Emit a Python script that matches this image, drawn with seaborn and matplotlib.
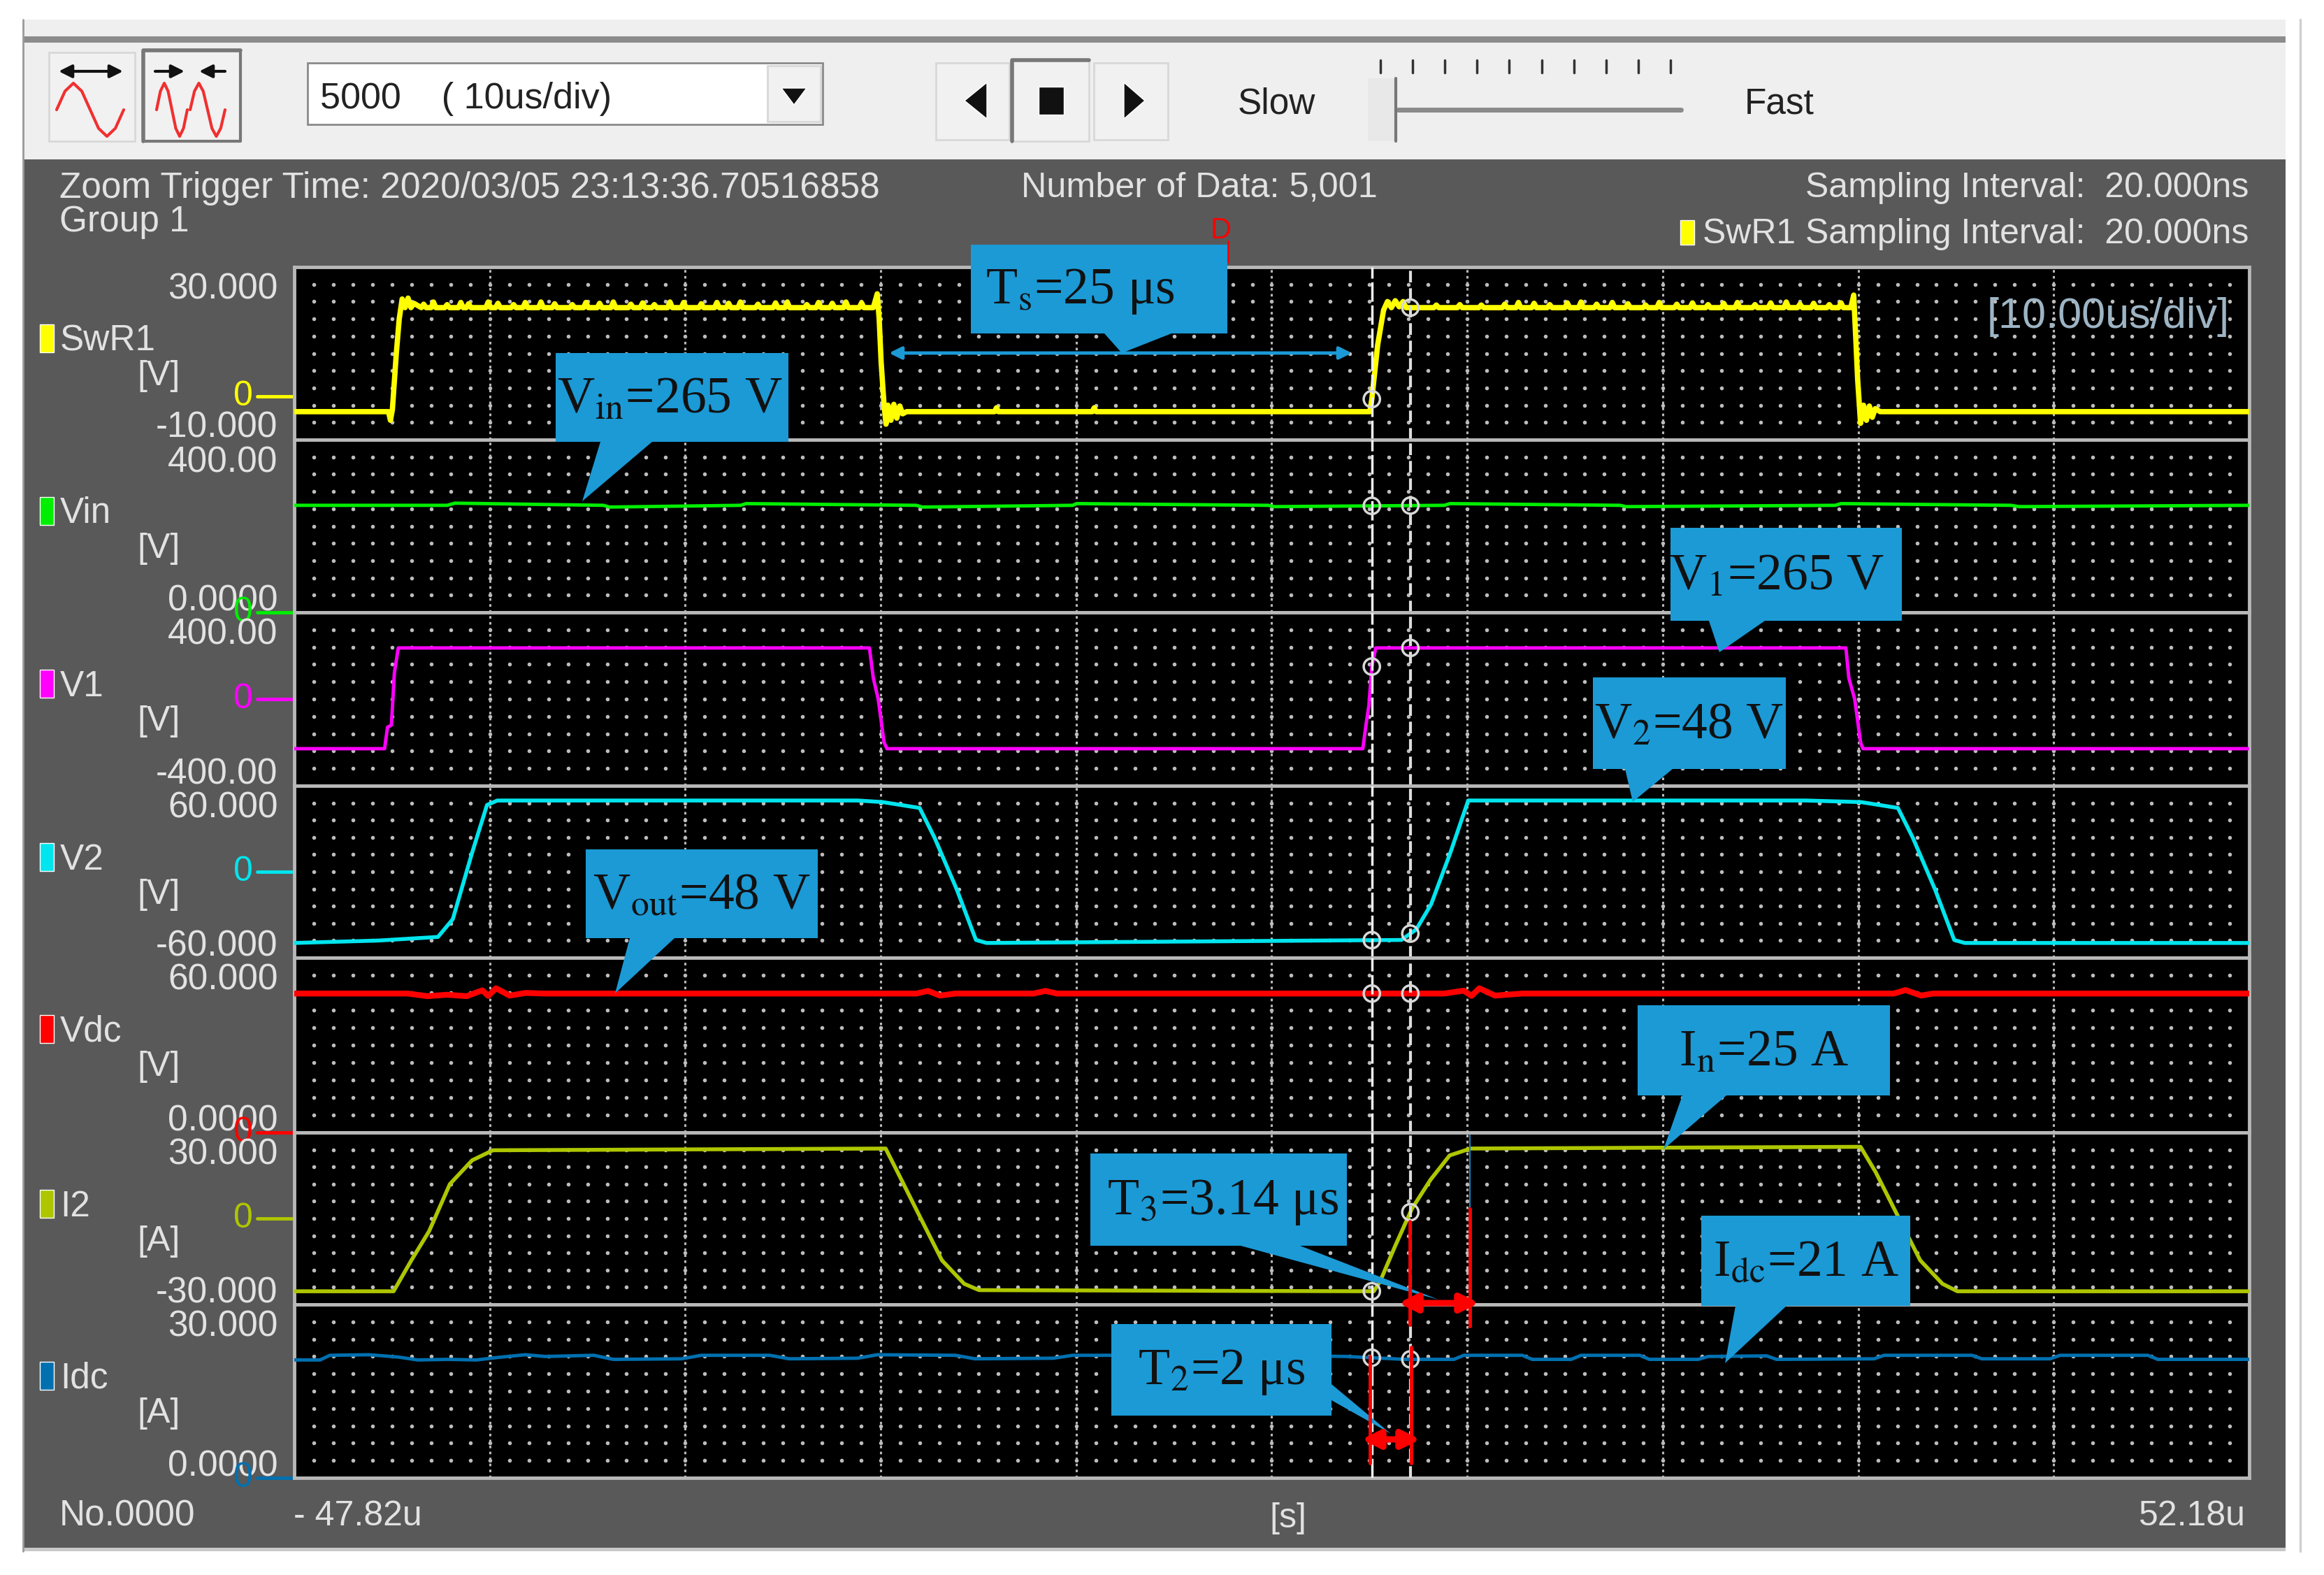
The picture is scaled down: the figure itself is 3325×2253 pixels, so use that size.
import numpy as np
import seaborn as sns
import matplotlib.pyplot as plt
from matplotlib.patches import Polygon, Rectangle
from matplotlib.transforms import ScaledTranslation

W, H = 3325, 2253

# time base of the record, us
T_START = -47.82
T_END = 52.18
CURSORS = [7.30, 9.27]

# SwR1 outline, the small ripple on the high level is listed separately below
swr1_t = [-47.82, -43.0, -42.9, -42.8, -42.72, -42.6, -42.45, -42.3, -42.15, -42.0, -41.85, -41.7,
          -18.2, -18.0, -17.9, -17.8, -17.65, -17.55, -17.45, -17.3, -17.15, -17.0, -16.85, -16.7, -16.5,
          -12.0, -11.9, -11.8, -7.0, -6.9, -6.8, 7.0, 7.2, 7.3, 7.6, 7.9, 8.1, 8.3, 8.5, 8.7, 8.9, 9.05,
          31.8, 31.95, 32.05, 32.15, 32.3, 32.45, 32.6, 32.75, 32.9, 33.05, 33.3, 52.18]
swr1_v = [-3.5, -3.5, -5.5, -3.0, 2.3, 10.0, 18.0, 22.6, 20.6, 22.8, 20.6, 21.6,
          20.6, 23.8, 18.0, 8.0, -2.0, -6.4, -2.0, -5.5, -1.8, -5.0, -2.2, -4.0, -3.5,
          -3.5, -2.6, -3.5, -3.5, -2.6, -3.5, -3.5, -3.5, -0.6, 12.0, 20.0, 22.0, 20.6, 22.2, 20.8, 22.0, 20.6,
          20.6, 23.5, 14.0, 4.0, -6.2, -2.0, -5.5, -2.2, -4.8, -2.8, -3.5, -3.5]
# ripple peaks on the high level
swr1_peak_t = [-41.2, -40.7, -40.0, -39.3, -38.9, -37.9, -37.4, -36.6, -36.0, -35.2, -34.5, -33.6, -32.9, -32.2, -31.5,
               -30.6, -30.0, -29.4, -28.6, -27.9, -27.0, -26.2, -25.6, -25.0, -24.1, -23.2, -22.6, -21.6, -21.0, -20.3, -19.6, -18.8,
               10.6, 11.8, 12.9, 14.1, 14.8, 15.6, 16.4, 17.3, 18.0, 18.8, 19.6, 20.4, 21.3, 22.0, 22.9, 23.7, 24.5, 25.3, 26.0,
               26.9, 27.7, 28.5, 29.2, 29.9, 30.7, 31.3]
swr1_peak_v = [21.4, 21.9, 21.3, 21.8, 21.5, 21.9, 21.6, 21.3, 21.8, 21.9, 21.5, 21.3, 21.8, 21.6, 21.9,
               21.4, 21.7, 21.3, 21.9, 21.8, 21.5, 21.8, 21.6, 21.9, 21.4, 21.7, 21.9, 21.3, 21.8, 21.6, 21.9, 21.7,
               21.2, 21.3, 21.2, 21.4, 21.8, 21.6, 21.3, 21.7, 21.9, 21.4, 21.8, 21.5, 21.2, 21.8, 21.4, 21.7, 21.3, 21.6, 21.8,
               21.3, 21.7, 21.9, 21.4, 21.6, 21.3, 21.7]
SWR1_HIGH = 20.6

vin_t = [-47.82, -40.0, -39.6, -32.0, -31.7, -25.0, -24.7, -16.0, -15.7, -8.0, -7.8, 2.0, 2.3, 11.0, 11.3, 20.0, 20.3, 31.0, 31.3,
         40.0, 40.4, 52.18]
vin_v = [248, 248, 253, 248, 244, 248, 252, 248, 244, 248, 252, 248, 245, 248, 252, 248, 245, 248, 252, 248, 245, 248]

v1_t = [-47.82, -43.2, -43.05, -42.85, -42.7, -42.5, -18.4, -18.2, -17.95, -17.65, -17.5, 6.84, 7.0, 7.15, 7.3, 7.5, 31.55, 31.7,
        32.0, 32.3, 32.42, 52.18]
v1_v = [-229, -229, -130, -120, 120, 236, 236, 97, 0, -200, -229, -229, -120, -30, 150, 236, 236, 97, 0, -200, -229, -229]

v2_t = [-47.82, -43.5, -40.47, -39.71, -38.72, -37.96, -37.43, -19.0, -17.72, -15.83, -15.07, -13.93, -12.95, -12.41,
        8.81, 9.57, 10.33, 11.32, 12.23, 12.98, 29.5, 32.32, 34.21, 34.97, 36.11, 37.09, 37.63, 52.18]
v2_v = [-49.7, -48.0, -45.5, -33.1, 13.4, 46.6, 49.7, 49.7, 48.6, 44.5, 23.8, -12.4, -47.6, -49.7,
        -47.6, -40.3, -22.8, 13.4, 49.7, 49.7, 49.7, 48.6, 44.5, 23.8, -12.4, -47.6, -49.7, -49.7]

vdc_t = [-47.82, -42.0, -41.0, -40.0, -39.0, -38.2, -37.9, -37.5, -36.8, -36.0, -35.0, -16.0, -15.4, -14.8, -14.0, -10.0, -9.4, -8.8,
         8.0, 9.5, 11.0, 12.0, 12.4, 12.8, 13.6, 15.0, 34.0, 34.6, 35.4, 36.0, 52.18]
vdc_v = [47.7, 47.7, 46.8, 47.3, 46.8, 48.8, 46.9, 49.5, 47.0, 47.9, 47.7, 47.7, 48.6, 47.0, 47.7, 47.7, 48.6, 47.7,
         47.7, 47.7, 47.7, 48.7, 46.9, 49.5, 47.0, 47.7, 47.7, 48.9, 47.0, 47.7, 47.7]

i2_t = [-47.82, -42.74, -41.83, -40.92, -39.86, -38.72, -37.66, -17.57, -16.96, -15.83, -14.69, -13.55, -12.79,
        7.4, 7.72, 8.5, 9.35, 10.3, 11.28, 12.35, 32.3, 33.07, 34.21, 35.35, 36.49, 37.25, 52.18]
i2_v = [-25.4, -25.4, -14.6, -4.4, 12.0, 20.3, 23.8, 24.4, 16.2, 0.8, -14.6, -22.8, -25.0,
        -25.4, -22.0, -9.5, 3.4, 13.5, 22.0, 24.4, 25.0, 16.2, 0.8, -14.6, -22.8, -25.4, -25.4]

idc_t = [-47.82, -46.5, -46.0, -44.0, -42.5, -41.5, -40.0, -38.5, -37.5, -36.0, -35.0, -32.5, -31.5, -28.0, -27.0, -23.5, -22.5,
         -19.0, -18.0, -14.0, -13.0, -9.0, -8.0, -4.0, -3.0, 1.0, 2.0, 6.0, 9.0, 11.5, 12.0, 15.0, 15.5, 17.5, 18.0, 21.0, 21.5,
         24.0, 24.5, 27.5, 28.0, 33.0, 33.5, 38.0, 38.5, 42.0, 42.5, 47.0, 47.5, 52.18]
idc_v = [20.4, 20.4, 21.2, 21.3, 20.9, 20.4, 20.5, 20.4, 20.8, 21.3, 21.0, 21.2, 20.5, 20.6, 21.2, 21.2, 20.6,
         20.7, 21.3, 21.2, 20.6, 20.7, 21.2, 21.2, 20.6, 20.7, 21.2, 21.0, 20.5, 20.5, 21.2, 21.2, 20.5, 20.5, 21.2, 21.2, 20.5,
         20.5, 21.0, 21.1, 20.5, 20.6, 21.2, 21.2, 20.6, 20.6, 21.2, 21.2, 20.5, 20.5]

names = ['SwR1', 'Vin', 'V1', 'V2', 'Vdc', 'I2', 'Idc']
units = ['[V]', '[V]', '[V]', '[V]', '[V]', '[A]', '[A]']
y_tops = [30, 400, 400, 60, 60, 30, 30]
y_bottoms = [-10, 0, -400, -60, 0, -30, 0]
top_labels = ['30.000', '400.00', '400.00', '60.000', '60.000', '30.000', '30.000']
bottom_labels = ['-10.000', '0.0000', '-400.00', '-60.000', '0.0000', '-30.000', '0.0000']
colors = ['#ffff00', '#00ee00', '#ff00ff', '#00e5ee', '#ff0000', '#aec600', '#0070b0']
widths = [5.5, 3.5, 3.5, 4, 6, 4, 3.5]

# put the ripple peaks on the SwR1 outline, each one a narrow triangle
pts = list(zip(swr1_t, swr1_v))
for pt, pv in zip(swr1_peak_t, swr1_peak_v):
    pts += [(pt - 0.12, SWR1_HIGH), (pt, pv), (pt + 0.12, SWR1_HIGH)]
pts.sort()
swr1_all_t = [p[0] for p in pts]
swr1_all_v = [p[1] for p in pts]

series_t = [swr1_all_t, vin_t, v1_t, v2_t, vdc_t, i2_t, idc_t]
series_v = [swr1_all_v, vin_v, v1_v, v2_v, vdc_v, i2_v, idc_v]

# panel edges in pixels
LEFT, RIGHT = 421, 3218
edges = [382, 629, 876, 1124, 1370, 1620, 1866, 2114]

TEXT = '#e2e2e2'
BLUE = '#1b9ad6'

sns.set_style('dark')
plt.rcParams['font.family'] = ['Liberation Sans', 'DejaVu Sans']
plt.rcParams['mathtext.fontset'] = 'stix'

fig = plt.figure(figsize=(W / 100, H / 100), dpi=100, facecolor='white')


def pixel_axes(zorder):
    a = fig.add_axes([0, 0, 1, 1], zorder=zorder)
    a.set_xlim(0, W)
    a.set_ylim(H, 0)
    a.axis('off')
    a.patch.set_alpha(0)
    return a


bg = pixel_axes(0)
top = pixel_axes(10)

# window chrome
bg.add_patch(Rectangle((33, 28), 3237, 204, fc='#efefef', ec='none'))
bg.add_patch(Rectangle((33, 52), 3237, 9, fc='#8c8c8c', ec='none'))
bg.add_patch(Rectangle((33, 228), 3237, 1986, fc='#595959', ec='none'))
bg.add_patch(Rectangle((33, 2214), 3237, 5, fc='#c8c8c8', ec='none'))
bg.plot([3291, 3291], [28, 2219], color='#d0d0d0', lw=2.5)
bg.plot([33, 33], [28, 2219], color='#9a9a9a', lw=2)


def button(x0, y0, x1, y1, sunken=False):
    bg.add_patch(Rectangle((x0, y0), x1 - x0, y1 - y0, fc='#f1f1f1', ec='#d8d8d8', lw=2))
    if sunken:
        bg.plot([x0, x0, x1], [y1, y0, y0], color='#777777', lw=4)


button(70, 75, 193, 202)
button(205, 72, 344, 202, sunken=True)
bg.plot([205, 344, 344], [202, 202, 72], color='#777777', lw=3)

# waveform icons
wave_shape = [0, 0.7, 1, 0.7, 0, -0.7, -1, -0.7, 0]
xs1 = np.linspace(81, 177, 9)
bg.plot(xs1, [157 - 38 * s for s in wave_shape], color='#f03030', lw=3)
xs2 = np.linspace(224, 268, 9)
xs3 = np.linspace(272, 322, 9)
bg.plot(xs2, [157 - 38 * s for s in wave_shape], color='#f03030', lw=3)
bg.plot(xs3, [157 - 38 * s for s in wave_shape], color='#f03030', lw=3)
bg.annotate('', xy=(176, 102), xytext=(84, 102), arrowprops=dict(arrowstyle='<|-|>', color='#111111', lw=3, mutation_scale=28, shrinkA=0, shrinkB=0))
bg.annotate('', xy=(264, 102), xytext=(222, 102), arrowprops=dict(arrowstyle='-|>', color='#111111', lw=3, mutation_scale=28, shrinkA=0, shrinkB=0))
bg.annotate('', xy=(285, 102), xytext=(322, 102), arrowprops=dict(arrowstyle='-|>', color='#111111', lw=3, mutation_scale=28, shrinkA=0, shrinkB=0))

# combo box
bg.add_patch(Rectangle((440, 90), 737, 88, fc='white', ec='#8a8a8a', lw=2))
button(1098, 94, 1174, 174)
bg.add_patch(Polygon([[1118, 126], [1154, 126], [1136, 150]], fc='#111111'))
bg.text(458, 142, '5000    ( 10us/div)', color='#222222', fontsize=37.5, va='center')

# playback buttons
button(1339, 90, 1444, 200)
button(1448, 86, 1558, 202, sunken=True)
button(1565, 90, 1671, 200)
bg.add_patch(Polygon([[1412, 118], [1412, 170], [1380, 144]], fc='#111111'))
bg.add_patch(Rectangle((1486, 124), 36, 40, fc='#111111'))
bg.add_patch(Polygon([[1608, 118], [1608, 170], [1638, 144]], fc='#111111'))

# speed slider
bg.text(1771, 149, 'Slow', color='#222222', fontsize=37, va='center')
bg.text(2496, 149, 'Fast', color='#222222', fontsize=37, va='center')
for tx in np.linspace(1975, 2390, 10):
    bg.plot([tx, tx], [86, 104], color='#333333', lw=2.5)
bg.plot([2000, 2405], [157, 157], color='#8a8a8a', lw=5)
bg.add_patch(Rectangle((1957, 112), 40, 90, fc='#e8e8e8', ec='none'))
bg.plot([1997, 1997], [112, 202], color='#777777', lw=3)

# header and footer text
bg.text(85, 269, 'Zoom Trigger Time: 2020/03/05 23:13:36.70516858', color=TEXT, fontsize=37, va='center')
bg.text(85, 317, 'Group 1', color=TEXT, fontsize=37, va='center')
bg.text(1461, 269, 'Number of Data: 5,001', color=TEXT, fontsize=36.3, va='center')
bg.text(3217, 269, 'Sampling Interval:  20.000ns', color=TEXT, fontsize=36, va='center', ha='right')
bg.text(3217, 335, 'SwR1 Sampling Interval:  20.000ns', color=TEXT, fontsize=36, va='center', ha='right')
bg.add_patch(Rectangle((2404, 315), 20, 35, fc='#ffff00'))
bg.text(85, 2169, 'No.0000', color=TEXT, fontsize=37, va='center')
bg.text(420, 2169, '- 47.82u', color=TEXT, fontsize=36, va='center')
bg.text(1843, 2172, '[s]', color=TEXT, fontsize=36, va='center', ha='center')
bg.text(3213, 2169, '52.18u', color=TEXT, fontsize=36, va='center', ha='right')

# one panel per channel
grid_major = np.arange(T_START + 10, T_END, 10)
grid_minor = np.arange(T_START + 1, T_END - 0.5, 1)
label_shift = ScaledTranslation(0, -8 / 100, fig.dpi_scale_trans)
axes = []
for i, name in enumerate(names):
    ax = fig.add_axes([LEFT / W, 1 - edges[i + 1] / H, (RIGHT - LEFT) / W, (edges[i + 1] - edges[i]) / H], zorder=5)
    axes.append(ax)
    ymin, ymax = y_bottoms[i], y_tops[i]
    ax.set_facecolor('black')

    rows = ymin + (ymax - ymin) * np.arange(1, 10) / 10
    gx, gy = np.meshgrid(grid_minor, rows)
    ax.scatter(gx.ravel(), gy.ravel(), s=16, c='#bdbdbd', marker='o', linewidths=0, zorder=1)
    for g in grid_major:
        ax.axvline(g, color='#b8b8b8', lw=2.2, ls=(0, (1.2, 1.6)), zorder=1)

    sns.lineplot(x=series_t[i], y=series_v[i], ax=ax, color=colors[i], linewidth=widths[i],
                 estimator=None, sort=False, errorbar=None, zorder=3)

    ax.axvline(CURSORS[0], color='#f0f0f0', lw=2.5, ls=(0, (8, 1.5)), zorder=4)
    ax.axvline(CURSORS[1], color='#dcdcdc', lw=3, ls=(0, (4, 2)), zorder=4)
    ax.scatter(CURSORS, np.interp(CURSORS, series_t[i], series_v[i]), s=280, facecolors='none',
               edgecolors='#d8d8d8', linewidths=2.5, zorder=5)

    ax.set_xlim(T_START, T_END)
    ax.set_ylim(ymin, ymax)
    ax.set_xticks([])
    ax.set_xlabel('')
    ax.set_ylabel('')
    ax.grid(False)
    ax.set_yticks([ymin, ymax])
    ax.set_yticklabels([bottom_labels[i], top_labels[i]])
    ax.tick_params(axis='y', length=0, pad=17, labelsize=37, labelcolor=TEXT)
    for lab, va in zip(ax.get_yticklabels(), ['bottom', 'top']):
        lab.set_va(va)
        lab.set_transform(lab.get_transform() + label_shift)
    for s in ax.spines.values():
        s.set_visible(True)
        s.set_color('#b8b8b8')
        s.set_linewidth(3.5)

    # zero marker, channel key and unit
    trans = ax.get_yaxis_transform()
    ax.plot([-0.019, 0], [0, 0], transform=trans, color=colors[i], lw=3.5, clip_on=False)
    ax.text(-0.026, 0, '0', transform=trans, color=colors[i], fontsize=36, ha='center', va='center', clip_on=False)
    y0 = edges[i]
    bg.add_patch(Rectangle((57, y0 + 82), 20, 40, fc=colors[i]))
    bg.text(86, y0 + 106, name, color=TEXT, fontsize=37, va='center')
    bg.text(227, y0 + 156, units[i], color=TEXT, fontsize=36, va='center', ha='center')

axes[0].text(0.99, 0.71, '[10.00us/div]', transform=axes[0].transAxes, color='#9db4c4',
             fontsize=44, ha='right', va='center')


def callout(x0, y0, x1, y1, tail, label, tx=None):
    top.add_patch(Polygon(tail, fc=BLUE, ec='none'))
    top.add_patch(Rectangle((x0, y0), x1 - x0, y1 - y0, fc=BLUE, ec='none'))
    top.text(tx if tx else (x0 + x1) / 2, (y0 + y1) / 2 + 4, label, color='#111111', fontsize=53,
             family='Liberation Serif', ha='center', va='center')


callout(1389, 350, 1756, 477, [[1580, 477], [1676, 477], [1605, 505]], r'T$_{\mathrm{s}}$=25 μs', 1545)
callout(795, 505, 1128, 632, [[859, 632], [933, 632], [833, 717]], r'V$_{\mathrm{in}}$=265 V', 958)
callout(2390, 755, 2721, 888, [[2445, 888], [2525, 888], [2460, 933]], r'V$_{\mathrm{1}}$=265 V', 2542)
callout(2279, 969, 2555, 1100, [[2325, 1100], [2393, 1100], [2336, 1147]], r'V$_{\mathrm{2}}$=48 V')
callout(838, 1215, 1170, 1342, [[901, 1342], [965, 1342], [880, 1421]], r'V$_{\mathrm{out}}$=48 V')
callout(2343, 1438, 2704, 1567, [[2407, 1567], [2470, 1567], [2380, 1644]], r'I$_{\mathrm{n}}$=25 A')
callout(1560, 1650, 1927, 1782, [[1775, 1782], [1860, 1782], [2058, 1859]], r'T$_{\mathrm{3}}$=3.14 μs', 1750)
callout(1590, 1894, 1905, 2025, [[1905, 1980], [1905, 2003], [1990, 2051]], r'T$_{\mathrm{2}}$=2 μs')
callout(2434, 1739, 2733, 1868, [[2483, 1868], [2556, 1868], [2468, 1950]], r'I$_{\mathrm{dc}}$=21 A')

# period arrow
top.annotate('', xy=(1934, 505), xytext=(1272, 505), arrowprops=dict(arrowstyle='<|-|>', color=BLUE, lw=3.5, mutation_scale=26, shrinkA=0, shrinkB=0))
top.text(1747, 330, 'D', color='#ff0000', fontsize=30, ha='center', va='center')
top.plot([1757, 1757], [345, 375], color='#ff0000', lw=2)

# red timing brackets
top.plot([2103, 2103], [1624, 1729], color='#1b7fc0', lw=1.5)
for x_, y0_, y1_ in [(2017, 1747, 1895), (2103, 1729, 1897), (1960, 1940, 2093), (2019, 1927, 2093)]:
    top.plot([x_, x_], [y0_, y1_], color='#ff0000', lw=3.5)
for x0_, x1_, y_ in [(2001, 2116, 1864), (1948, 2032, 2059)]:
    top.annotate('', xy=(x1_, y_), xytext=(x0_, y_), arrowprops=dict(arrowstyle='<|-|>', color='#ff0000', lw=6.5, mutation_scale=38, shrinkA=0, shrinkB=0))

fig.savefig('out.png', dpi=100)
